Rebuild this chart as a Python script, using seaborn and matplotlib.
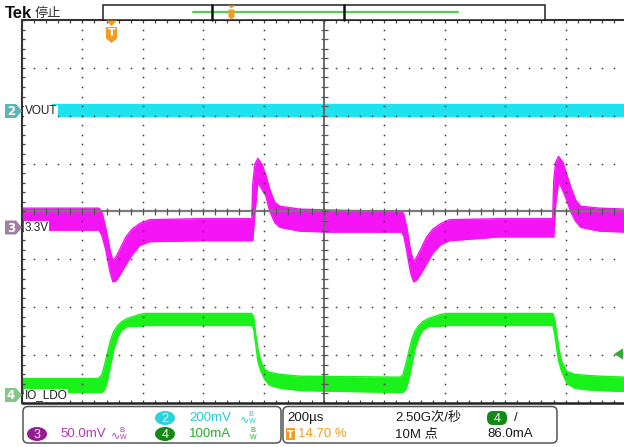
import numpy as np
import pandas as pd
import matplotlib
matplotlib.use("Agg")
import matplotlib.pyplot as plt
import seaborn as sns
from matplotlib.patches import Polygon, FancyBboxPatch, Ellipse, Rectangle

# ---------------- data ----------------
time_per_div_us = 200          # horizontal scale 200 µs/div
trigger_pos = 0.147            # trigger position 14.70 %
n_xdiv, n_ydiv = 10, 8

ch_labels = {2: "VOUT", 3: "3.3V", 4: "IO_LDO"}
ch_scale = {2: 200.0, 3: 50.0, 4: 100.0}   # 200mV/div, 50.0mV/div, 100mA/div
ch_pos = {2: 2.13, 3: -0.33, 4: -3.82}      # marker position (divisions)

# CH2 VOUT (mV, relative to its marker): upper / lower envelope of noise band
ch2_t = [-195, 1706]
ch2_hi_mv = [23, 23]
ch2_lo_mv = [-27, -27]

# CH3 3.3V rail (mV relative to 3.3 V marker)
ch3_t = [-295, -40, -30, -17, -3, 7, 17, 30, 50, 70,
         96, 129, 295, 467, 470, 477, 487, 500, 513, 526,
         543, 560, 626, 725, 891, 963, 970, 980, 993, 1003,
         1013, 1026, 1046, 1066, 1093, 1122, 1288, 1463, 1467, 1473,
         1483, 1497, 1510, 1523, 1540, 1556, 1619, 1706]
ch3_hi_mv = [20, 20, 17, 0, -23, -35, -31, -23, -10, -2,
             4, 8, 9, 9, 45, 66, 72, 66, 55, 40,
             26, 22, 19, 18, 17, 17, 14, 0, -25, -36,
             -31, -23, -10, -2, 4, 8, 9, 9, 50, 68,
             74, 68, 55, 42, 28, 22, 20, 19]
ch3_lo_mv = [-3, -3, -8, -23, -46, -57, -56, -50, -39, -29,
             -19, -15, -14, -14, -14, 14, 47, 40, 33, 17,
             5, 0, -4, -5, -5, -5, -9, -25, -48, -57,
             -55, -49, -38, -27, -18, -14, -10, -10, -10, 24,
             48, 38, 28, 16, 6, 0, -4, -5]

# CH4 IO_LDO load current (mA)
ch4_t = [-295, -43, -30, -20, -10, 0, 10, 23, 36, 56,
         96, 113, 467, 473, 480, 487, 497, 510, 526, 560,
         626, 957, 967, 977, 987, 997, 1007, 1020, 1033, 1053,
         1093, 1109, 1464, 1470, 1477, 1483, 1493, 1510, 1536, 1570,
         1619, 1706]
ch4_hi_ma = [33, 33, 40, 63, 90, 115, 132, 144, 152, 159,
             167, 169, 169, 161, 125, 94, 69, 52, 46, 42,
             38, 36, 40, 63, 90, 115, 132, 144, 152, 159,
             167, 169, 169, 156, 125, 98, 69, 48, 42, 40,
             38, 36]
ch4_lo_ma = [4, 4, 4, 10, 31, 63, 94, 119, 134, 142,
             142, 144, 144, 136, 104, 69, 48, 31, 19, 13,
             8, 4, 4, 10, 31, 63, 94, 119, 134, 142,
             142, 144, 144, 125, 94, 69, 48, 23, 13, 10,
             8, 6]

# readouts
readout_ch2 = "200mV"
readout_ch3 = "50.0mV"
readout_ch4 = "100mA"
readout_time = "200µs"
readout_trig_pos = "14.70 %"
readout_rate = "2.50G次/秒"
readout_points = "10M 点"
readout_trig_level = "86.0mA"

# ---------------- styling ----------------
sns.set_theme(style="white")
FONT = ['Liberation Sans', 'DejaVu Sans', 'Noto Sans CJK SC']
plt.rcParams['font.family'] = FONT

W, H = 624, 447
C2, C3, C4 = '#1EE3EE', '#F514F5', '#1AF01A'
ORANGE = '#F39C1F'
FS = 9.5

fig = plt.figure(figsize=(W / 100, H / 100), dpi=100)
fig.patch.set_facecolor('white')

# main scope graticule axes: pixel box x 22..626, y 20..403
ax = fig.add_axes([22 / W, 1 - 403 / H, 604 / W, 383 / H])
t0 = -trigger_pos * n_xdiv * time_per_div_us
t1 = t0 + n_xdiv * time_per_div_us


def draw_channel(t, hi, lo, ch, color):
    df = pd.DataFrame({
        't': t,
        'hi': ch_pos[ch] + np.asarray(hi, float) / ch_scale[ch],
        'lo': ch_pos[ch] + np.asarray(lo, float) / ch_scale[ch],
    })
    ax.fill_between(df['t'], df['lo'], df['hi'], color=color, lw=0, zorder=2)
    sns.lineplot(data=df, x='t', y='hi', ax=ax, color=color, lw=1.0,
                 zorder=2, legend=False)
    sns.lineplot(data=df, x='t', y='lo', ax=ax, color=color, lw=1.0,
                 zorder=2, legend=False)


draw_channel(ch2_t, ch2_hi_mv, ch2_lo_mv, 2, C2)
draw_channel(ch3_t, ch3_hi_mv, ch3_lo_mv, 3, C3)
draw_channel(ch4_t, ch4_hi_ma, ch4_lo_ma, 4, C4)

ax.set_xlim(t0, t1)
ax.set_ylim(-n_ydiv / 2, n_ydiv / 2)
ax.axis('off')

# graticule (drawn above traces like the scope)
minor_x = t0 + np.arange(0, n_xdiv * 5 + 1) * time_per_div_us / 5
minor_y = np.arange(-n_ydiv * 5 // 2, n_ydiv * 5 // 2 + 1) * 0.2
dot_kw = dict(ls='none', marker='s', ms=1.1, mew=0, color='#3a3a3a', zorder=4)
for k in range(1, n_xdiv):
    if k == n_xdiv // 2:
        continue
    gx = t0 + k * time_per_div_us
    ax.plot(np.full_like(minor_y, gx), minor_y, **dot_kw)
for j in range(-n_ydiv // 2 + 1, n_ydiv // 2):
    if j == 0:
        continue
    ax.plot(minor_x, np.full_like(minor_x, float(j)), **dot_kw)

tc = t0 + n_xdiv / 2 * time_per_div_us
ax.axhline(0, color='#7a7a7a', lw=1.6, zorder=4)
ax.axvline(tc, color='#6a6a6a', lw=1.4, zorder=4)
dy = 3.5 / 47.9
dx = 3.5 * time_per_div_us / 60.4
ax.vlines(minor_x, -dy, dy, color='#555555', lw=0.9, zorder=4)
ax.hlines(minor_y, tc - dx, tc + dx, color='#555555', lw=0.9, zorder=4)
# border + edge ticks
ax.vlines(minor_x, 4 - dy * 0.9, 4, color='#444444', lw=0.9, zorder=4, clip_on=False)
ax.vlines(minor_x, -4, -4 + dy * 0.9, color='#444444', lw=0.9, zorder=4, clip_on=False)
ax.hlines(minor_y, t0, t0 + dx * 0.9, color='#444444', lw=0.9, zorder=4, clip_on=False)
ax.axhline(4, color='#333333', lw=1.5, zorder=5, clip_on=False)
ax.axhline(-4, color='#222222', lw=1.8, zorder=5, clip_on=False)
ax.axvline(t0, color='#333333', lw=1.5, zorder=5, clip_on=False)

# ---------------- overlay in pixel coordinates ----------------
ov = fig.add_axes([0, 0, 1, 1], zorder=10)
ov.set_xlim(0, W)
ov.set_ylim(H, 0)
ov.axis('off')


def poly(pts, color, z=11, **kw):
    ov.add_patch(Polygon(pts, closed=True, fc=color, ec=kw.pop('ec', 'none'),
                         lw=kw.pop('lw', 0), zorder=z, **kw))


# header
ov.text(5, 13, 'Tek', fontsize=12, fontweight='bold', va='center', ha='left',
        color='#111111', family=FONT)
ov.text(35, 13.5, '停止', fontsize=9.5, va='center', ha='left', color='#333333',
        family=['Noto Sans CJK SC'])
ov.add_patch(Rectangle((103, 5), 442, 15, fc='white', ec='#222222', lw=1.1, zorder=11))
ov.plot([193, 458], [12, 12], color='#55CC55', lw=1.6, zorder=12)
for bx in (212, 344):
    ov.plot([bx, bx], [5, 20], color='#111111', lw=1.8, zorder=13)
# small trigger marker in the record bar
poly([(228, 5.5), (235, 5.5), (231.5, 8.5)], ORANGE, z=14)
poly([(228.5, 9.5), (234.5, 9.5), (234.5, 17), (231.5, 19.5), (228.5, 17)], ORANGE, z=14)

# trigger position marker on graticule
poly([(106, 20.5), (117, 20.5), (111.5, 26)], ORANGE, z=14)
poly([(106, 27), (117, 27), (117, 38.5), (111.5, 43), (106, 38.5)], ORANGE, z=14)
ov.text(111.5, 33.5, 'T', fontsize=8, fontweight='bold', color='white',
        ha='center', va='center', zorder=15, family=['DejaVu Sans'])

# trigger level marker (right)
poly([(614, 354), (623, 348.5), (623, 359.5)], '#33AA33', z=14)


# channel markers on the left
def ch_marker(num, yc, color, label):
    poly([(5, yc - 7), (16, yc - 7), (22, yc), (16, yc + 7), (5, yc + 7)], color, z=14)
    ov.text(11, yc + 0.5, str(num), fontsize=8.5, fontweight='bold', color='white',
            ha='center', va='center', zorder=15, family=['DejaVu Sans'])
    ov.text(24.5, yc + 0.5, label, fontsize=8.5, color='#1e1e1e', ha='left', va='center',
            zorder=15, family=FONT,
            bbox=dict(fc='white', ec='none', pad=0.5))


ch_marker(2, 111, '#5BB5BB', ch_labels[2])
ch_marker(3, 227.5, '#A07FA0', ch_labels[3])
ch_marker(4, 395, '#84C784', ch_labels[4])

# bottom readout panels
ov.add_patch(FancyBboxPatch((23, 406.5), 258, 36.5,
                            boxstyle='round,pad=0,rounding_size=5',
                            fc='white', ec='#555555', lw=1.1, zorder=11))
ov.add_patch(FancyBboxPatch((283, 406.5), 274, 36.5,
                            boxstyle='round,pad=0,rounding_size=5',
                            fc='white', ec='#555555', lw=1.1, zorder=11))
R1, R2 = 418, 434


def badge(xc, yc, num, color):
    ov.add_patch(Ellipse((xc, yc), 20, 14, fc=color, ec='none', zorder=12))
    ov.text(xc, yc + 0.5, str(num), fontsize=9, color='white', ha='center',
            va='center', zorder=13, family=FONT)


def bw_icon(x, y, color, wave=True):
    if wave:
        ov.text(x, y + 1, '∿', fontsize=8, color=color, ha='left', va='center',
                zorder=13, family=['DejaVu Sans'])
        x += 8.5
    ov.text(x, y - 3, 'B', fontsize=5.5, color=color, ha='left', va='center',
            zorder=13, family=FONT)
    ov.text(x, y + 3.5, 'W', fontsize=5, color=color, ha='left', va='center',
            zorder=13, family=FONT)


badge(165, R1, 2, '#2ED0DC')
ov.text(189, R1, readout_ch2, fontsize=FS, color='#2CC8D6', ha='left', va='center',
        zorder=13)
bw_icon(240, R1, '#2CC8D6')

badge(37, R2, 3, '#931C93')
ov.text(60, R2, readout_ch3, fontsize=FS, color='#B03AB0', ha='left', va='center',
        zorder=13)
bw_icon(111, R2, '#B03AB0')

badge(165, R2, 4, '#138A13')
ov.text(189, R2, readout_ch4, fontsize=FS, color='#22B022', ha='left', va='center',
        zorder=13)
bw_icon(250, R2, '#22B022', wave=False)

ov.text(287, R1, readout_time, fontsize=FS, color='#1a1a1a', ha='left', va='center',
        zorder=13)
ov.add_patch(Rectangle((286, 427.5), 9, 12, fc=ORANGE, ec='none', zorder=12))
ov.text(290.5, R2 + 0.5, 'T', fontsize=7, fontweight='bold', color='white',
        ha='center', va='center', zorder=13, family=['DejaVu Sans'])
ov.text(298, R2, readout_trig_pos, fontsize=FS, color=ORANGE, ha='left', va='center',
        zorder=13)
ov.text(395, R1, readout_rate, fontsize=FS, color='#1a1a1a', ha='left', va='center',
        zorder=13)
ov.text(395, R2, readout_points, fontsize=FS, color='#1a1a1a', ha='left', va='center',
        zorder=13)
ov.add_patch(FancyBboxPatch((487, 411), 20, 14, boxstyle='round,pad=0,rounding_size=6',
                            fc='#138A13', ec='none', zorder=12))
ov.text(497, R1 + 0.5, '4', fontsize=9, color='white', ha='center', va='center',
        zorder=13)
ov.text(514, R1, '/', fontsize=FS, color='#1a1a1a', ha='left', va='center', zorder=13)
ov.text(487, R2, readout_trig_level, fontsize=FS, color='#1a1a1a', ha='left',
        va='center', zorder=13)

fig.savefig('out.png', dpi=100, facecolor='white')
